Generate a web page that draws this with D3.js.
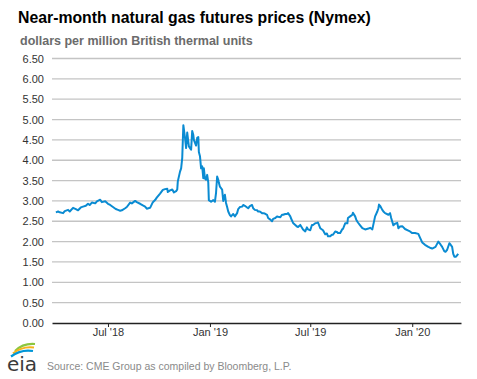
<!DOCTYPE html>
<html><head><meta charset="utf-8">
<script src="https://cdn.jsdelivr.net/npm/d3@7"></script>
<style>
html,body{margin:0;padding:0;background:#fff;}
svg{display:block;font-family:"Liberation Sans",Arial,sans-serif;}
</style></head>
<body>
<svg id="chart" width="477" height="379"></svg>
<script>
const title = "Near-month natural gas futures prices (Nymex)";
const subtitle = "dollars per million British thermal units";
const source = "Source: CME Group as compiled by Bloomberg, L.P.";

const yTicks = [0,0.5,1,1.5,2,2.5,3,3.5,4,4.5,5,5.5,6,6.5];
const xTickDates = ["2018-07-01","2019-01-01","2019-07-01","2020-01-01"];
const xTickLabels = ["Jul '18","Jan '19","Jul '19","Jan '20"];
const xDomain = ["2018-03-22","2020-03-29"];

const dates = [
"2018-03-29","2018-04-02","2018-04-05","2018-04-11","2018-04-14","2018-04-20","2018-04-23","2018-04-29","2018-05-04","2018-05-08",
"2018-05-13","2018-05-17","2018-05-22","2018-05-26","2018-05-29","2018-06-02","2018-06-08","2018-06-11","2018-06-17","2018-06-20",
"2018-06-26","2018-07-01","2018-07-05","2018-07-10","2018-07-15","2018-07-19","2018-07-23","2018-07-26","2018-08-01","2018-08-04",
"2018-08-10","2018-08-13","2018-08-19","2018-08-22","2018-08-28","2018-09-02","2018-09-06","2018-09-09","2018-09-15","2018-09-20",
"2018-09-24","2018-09-27","2018-10-03","2018-10-08","2018-10-12","2018-10-16","2018-10-17","2018-10-21","2018-10-25","2018-10-28",
"2018-11-01","2018-11-03","2018-11-04","2018-11-08","2018-11-10","2018-11-12","2018-11-14","2018-11-17","2018-11-19","2018-11-21",
"2018-11-23","2018-11-24","2018-11-28","2018-11-30","2018-12-02","2018-12-03","2018-12-07","2018-12-09","2018-12-11","2018-12-12",
"2018-12-14","2018-12-16","2018-12-18","2018-12-20","2018-12-21","2018-12-23","2018-12-25","2018-12-27","2018-12-29","2018-12-30",
"2019-01-03","2019-01-07","2019-01-10","2019-01-12","2019-01-14","2019-01-16","2019-01-17","2019-01-19","2019-01-23","2019-01-25",
"2019-01-28","2019-01-30","2019-02-01","2019-02-03","2019-02-06","2019-02-08","2019-02-12","2019-02-15","2019-02-19","2019-02-21",
"2019-02-24","2019-02-28","2019-03-02","2019-03-05","2019-03-09","2019-03-11","2019-03-14","2019-03-18","2019-03-20","2019-03-23",
"2019-03-27","2019-03-29","2019-04-01","2019-04-05","2019-04-07","2019-04-10","2019-04-14","2019-04-16","2019-04-20","2019-04-23",
"2019-04-25","2019-04-29","2019-05-02","2019-05-04","2019-05-08","2019-05-11","2019-05-13","2019-05-17","2019-05-20","2019-05-22",
"2019-05-26","2019-05-27","2019-05-31","2019-06-04","2019-06-07","2019-06-09","2019-06-13","2019-06-18","2019-06-22","2019-06-25",
"2019-06-27","2019-06-29","2019-07-01","2019-07-04","2019-07-06","2019-07-10","2019-07-13","2019-07-15","2019-07-19","2019-07-24",
"2019-07-28","2019-07-31","2019-08-02","2019-08-06","2019-08-09","2019-08-11","2019-08-15","2019-08-19","2019-08-20","2019-08-24",
"2019-08-28","2019-08-29","2019-09-02","2019-09-06","2019-09-07","2019-09-11","2019-09-15","2019-09-16","2019-09-20","2019-09-22",
"2019-09-25","2019-09-29","2019-10-03","2019-10-08","2019-10-14","2019-10-17","2019-10-21","2019-10-26","2019-10-30","2019-11-01",
"2019-11-02","2019-11-04","2019-11-08","2019-11-10","2019-11-13","2019-11-19","2019-11-22","2019-11-24","2019-11-28","2019-12-01",
"2019-12-05","2019-12-07","2019-12-10","2019-12-14","2019-12-19","2019-12-25","2019-12-28","2020-01-01","2020-01-06","2020-01-12",
"2020-01-15","2020-01-19","2020-01-24","2020-01-30","2020-02-02","2020-02-06","2020-02-12","2020-02-17","2020-02-21","2020-02-24",
"2020-02-28","2020-03-01","2020-03-04","2020-03-08","2020-03-10","2020-03-13","2020-03-15","2020-03-17","2020-03-20","2020-03-24"
];
const prices = [
2.72,2.74,2.72,2.70,2.75,2.78,2.74,2.83,2.80,2.77,
2.84,2.86,2.88,2.93,2.90,2.96,2.94,2.99,3.03,2.97,
2.99,2.93,2.90,2.85,2.80,2.78,2.76,2.77,2.82,2.85,
2.96,2.94,3.00,2.97,2.93,2.89,2.86,2.81,2.83,2.97,
3.02,3.08,3.18,3.27,3.29,3.30,3.22,3.26,3.28,3.21,
3.24,3.28,3.48,3.72,3.80,4.06,4.86,4.55,4.30,4.68,
4.45,4.34,4.26,4.72,4.62,4.50,4.36,4.55,4.57,4.20,
4.10,3.80,3.85,3.56,3.80,3.55,3.52,3.64,3.45,3.02,
2.98,3.02,2.98,3.20,3.60,3.52,3.45,3.35,3.28,3.00,
3.15,2.95,2.85,2.74,2.65,2.62,2.68,2.62,2.70,2.80,
2.85,2.86,2.90,2.88,2.84,2.82,2.87,2.90,2.82,2.78,
2.77,2.74,2.74,2.70,2.70,2.69,2.66,2.58,2.54,2.50,
2.56,2.58,2.62,2.61,2.60,2.66,2.66,2.68,2.68,2.70,
2.62,2.58,2.46,2.41,2.37,2.36,2.41,2.30,2.25,2.35,
2.30,2.29,2.28,2.41,2.41,2.45,2.46,2.47,2.33,2.28,
2.18,2.20,2.13,2.13,2.17,2.17,2.25,2.23,2.21,2.21,
2.31,2.31,2.45,2.45,2.58,2.62,2.66,2.71,2.62,2.54,
2.47,2.40,2.33,2.30,2.32,2.34,2.30,2.62,2.74,2.82,
2.91,2.88,2.78,2.74,2.70,2.66,2.70,2.58,2.40,2.44,
2.46,2.33,2.37,2.38,2.31,2.27,2.25,2.21,2.21,2.19,
2.10,1.98,1.92,1.87,1.85,1.83,1.87,2.00,1.93,1.87,
1.76,1.75,1.80,1.96,1.93,1.87,1.70,1.63,1.63,1.70
];

(function(){
const parse = d3.utcParse("%Y-%m-%d");
const data = dates.map((d,i)=>({date:parse(d), value:prices[i]}));

const svg = d3.select("#chart");
const pLeft = 52, pRight = 461, pTop = 58.5, pBottom = 323;

const x = d3.scaleUtc().domain(xDomain.map(parse)).range([pLeft, pRight]);
const y = d3.scaleLinear().domain([0, 6.5]).range([pBottom, pTop]);

svg.append("text").attr("x",18).attr("y",23).attr("font-size",15.8).attr("font-weight","bold")
  .attr("fill","#000").text(title);
svg.append("text").attr("x",20).attr("y",45).attr("font-size",12.5).attr("font-weight","bold")
  .attr("fill","#6b6b6b").text(subtitle);

svg.append("g").selectAll("line").data(yTicks.filter(v=>v>0)).join("line")
  .attr("x1",pLeft).attr("x2",pRight)
  .attr("y1",d=>y(d)).attr("y2",d=>y(d))
  .attr("stroke","#c4c4c4").attr("stroke-width",1.3);

svg.append("g").selectAll("text").data(yTicks).join("text")
  .attr("x",44).attr("y",d=>y(d)+4)
  .attr("text-anchor","end").attr("font-size",11).attr("fill","#333")
  .text(d=>d3.format(".2f")(d));

const xAxis = d3.axisBottom(x)
  .tickValues(xTickDates.map(parse))
  .tickFormat((d,i)=>xTickLabels[i])
  .tickSize(4).tickSizeOuter(0);
const gx = svg.append("g").attr("transform",`translate(0,${pBottom})`).call(xAxis);
gx.select(".domain").attr("stroke","#222").attr("stroke-width",1.5);
gx.selectAll(".tick line").attr("stroke","#222").attr("stroke-width",1);
gx.selectAll(".tick text").attr("font-size",11).attr("fill","#333")
  .attr("font-family","\"Liberation Sans\",Arial,sans-serif").attr("dy","0.3em").attr("y",10);

const line = d3.line().x(d=>x(d.date)).y(d=>y(d.value));
svg.append("path").datum(data).attr("d",line)
  .attr("fill","none").attr("stroke","#0a8bd2").attr("stroke-width",2)
  .attr("stroke-linejoin","round");

svg.append("text").attr("x",47).attr("y",370).attr("font-size",10.5).attr("fill","#8a8a8a").text(source);

const logo = svg.append("g");
logo.append("path").attr("d","M15,351 Q23,343 35,344").attr("fill","none").attr("stroke","#8cc63f").attr("stroke-width",2.2);
logo.append("path").attr("d","M13,353.5 Q22,346 34,347.5").attr("fill","none").attr("stroke","#f7b21b").attr("stroke-width",2.2);
logo.append("path").attr("d","M11,356.5 Q21,349 33,351").attr("fill","none").attr("stroke","#0096d7").attr("stroke-width",2.2);
logo.append("text").attr("x",7).attr("y",371).attr("font-size",20).attr("fill","#3b3b3b")
  .attr("font-family","\"DejaVu Sans\",sans-serif").text("eia");
})();
</script>
</body></html>
